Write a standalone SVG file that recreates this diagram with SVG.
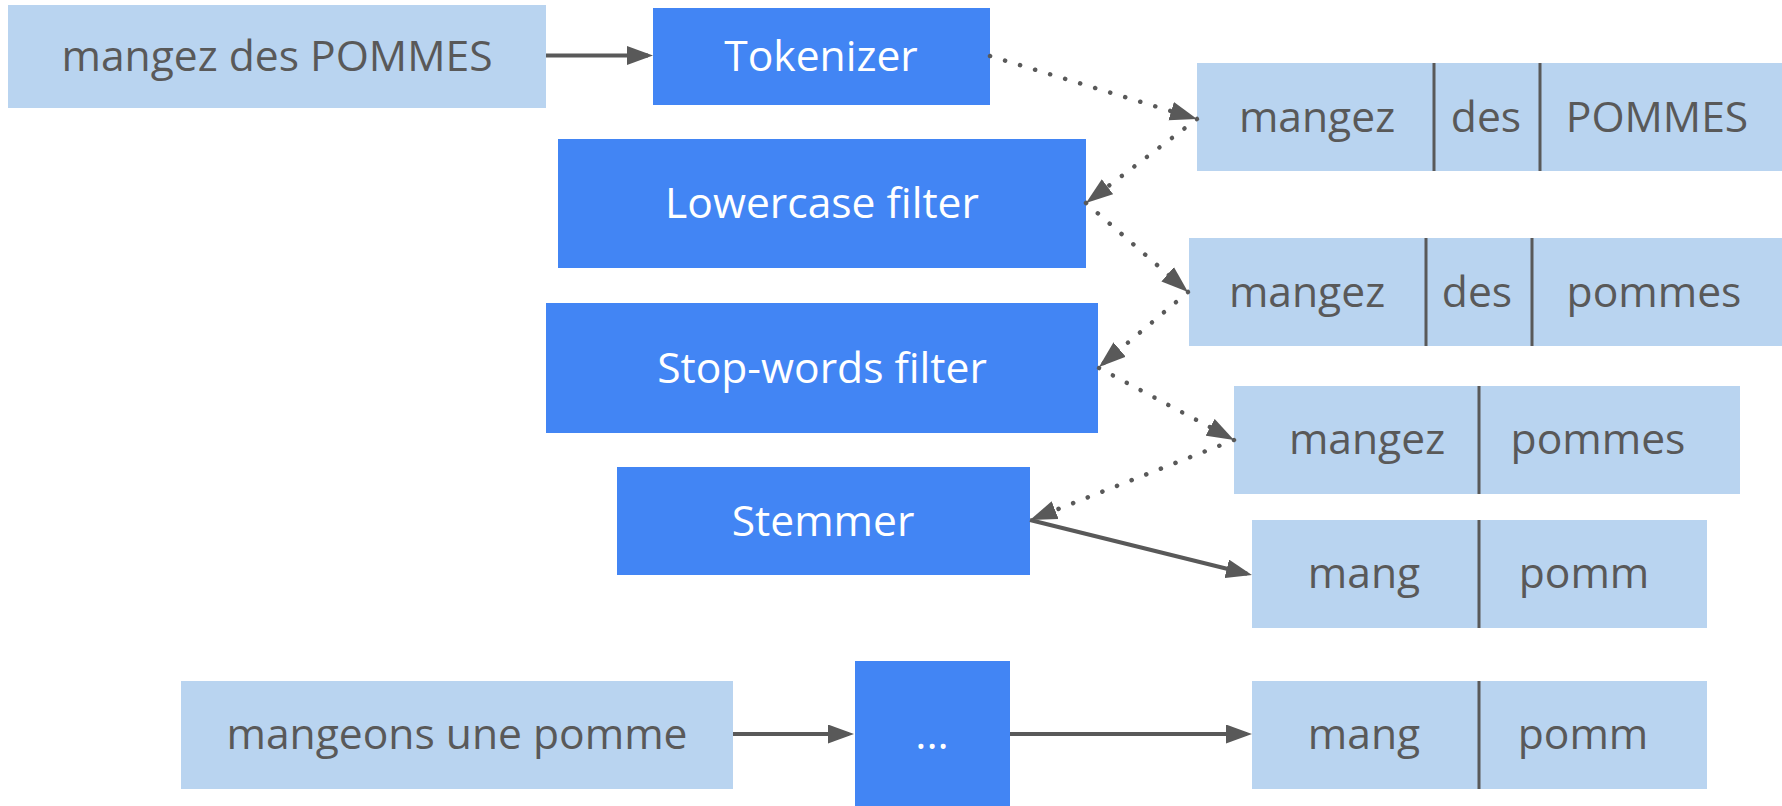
<svg xmlns="http://www.w3.org/2000/svg" width="1782" height="806" viewBox="0 0 1782 806">
<style>
.lb{fill:#b9d4f0}
.bb{fill:#4285f4}
.t{font-family:"Open Sans","Noto Sans","Liberation Sans",sans-serif;font-size:42.6px;text-anchor:middle;fill:#595959}
.w{fill:#ffffff}
.div{stroke:#595959;stroke-width:3}
.sol{stroke:#595959;stroke-width:4;fill:none}
.dot{stroke:#595959;stroke-width:4.5;fill:none;stroke-linecap:round;stroke-dasharray:0.1 15.6}
</style>
<defs>
<marker id="a" markerUnits="userSpaceOnUse" markerWidth="26" markerHeight="19" refX="21" refY="9.5" orient="auto"><path d="M0,0 L26,9.5 L0,19 z" fill="#595959"/></marker>
<marker id="ad" markerUnits="userSpaceOnUse" markerWidth="27" markerHeight="20" refX="27" refY="10" orient="auto"><path d="M0,0.5 L27,10 L0,19.5 z" fill="#595959"/></marker>
</defs>
<g id="input1"><rect class="lb" x="8" y="5" width="538" height="103"/><text class="t" x="277" y="71">mangez des POMMES</text></g>
<g id="tokenizer"><rect class="bb" x="653" y="8" width="337" height="97"/><text class="t w" x="821" y="71">Tokenizer</text></g>
<g id="lowercase"><rect class="bb" x="558" y="139" width="528" height="129"/><text class="t w" x="822" y="218">Lowercase filter</text></g>
<g id="stopwords"><rect class="bb" x="546" y="303" width="552" height="130"/><text class="t w" x="822" y="383">Stop-words filter</text></g>
<g id="stemmer"><rect class="bb" x="617" y="467" width="413" height="108"/><text class="t w" x="823" y="536">Stemmer</text></g>
<g id="input2"><rect class="lb" x="181" y="681" width="552" height="108"/><text class="t" x="457" y="749">mangeons une pomme</text></g>
<g id="ellipsis"><rect class="bb" x="855" y="661" width="155" height="145"/><text class="t w" x="932" y="749">...</text></g>
<g id="tokens1"><rect class="lb" x="1197" y="63" width="585" height="108"/><line class="div" x1="1434" y1="63" x2="1434" y2="171"/><line class="div" x1="1540" y1="63" x2="1540" y2="171"/><text class="t" x="1317" y="132">mangez</text><text class="t" x="1486" y="132">des</text><text class="t" x="1657" y="132">POMMES</text></g>
<g id="tokens2"><rect class="lb" x="1189" y="238" width="593" height="108"/><line class="div" x1="1426" y1="238" x2="1426" y2="346"/><line class="div" x1="1532" y1="238" x2="1532" y2="346"/><text class="t" x="1307" y="307">mangez</text><text class="t" x="1477" y="307">des</text><text class="t" x="1654" y="307">pommes</text></g>
<g id="tokens3"><rect class="lb" x="1234" y="386" width="506" height="108"/><line class="div" x1="1479" y1="386" x2="1479" y2="494"/><text class="t" x="1367" y="454">mangez</text><text class="t" x="1598" y="454">pommes</text></g>
<g id="tokens4"><rect class="lb" x="1252" y="520" width="455" height="108"/><line class="div" x1="1479" y1="520" x2="1479" y2="628"/><text class="t" x="1364" y="588">mang</text><text class="t" x="1584" y="588">pomm</text></g>
<g id="tokens5"><rect class="lb" x="1252" y="681" width="455" height="108"/><line class="div" x1="1479" y1="681" x2="1479" y2="789"/><text class="t" x="1364" y="749">mang</text><text class="t" x="1583" y="749">pomm</text></g>
<g id="connectors">
<line class="sol" x1="546" y1="55.5" x2="648" y2="55.5" marker-end="url(#a)"/>
<line class="dot" x1="990" y1="56" x2="1197" y2="119" marker-end="url(#ad)"/>
<line class="dot" x1="1197" y1="119" x2="1086" y2="203" marker-end="url(#ad)"/>
<line class="dot" x1="1086" y1="203" x2="1188" y2="292" marker-end="url(#ad)"/>
<line class="dot" x1="1188" y1="292" x2="1099" y2="367" marker-end="url(#ad)"/>
<line class="dot" x1="1099" y1="368" x2="1234" y2="440" marker-end="url(#ad)"/>
<line class="dot" x1="1234" y1="440" x2="1030" y2="520" marker-end="url(#ad)"/>
<line class="sol" x1="1030" y1="520" x2="1247.1" y2="573.8" marker-end="url(#a)"/>
<line class="sol" x1="733" y1="734" x2="849" y2="734" marker-end="url(#a)"/>
<line class="sol" x1="1010" y1="734" x2="1247" y2="734" marker-end="url(#a)"/>
</g>
</svg>
